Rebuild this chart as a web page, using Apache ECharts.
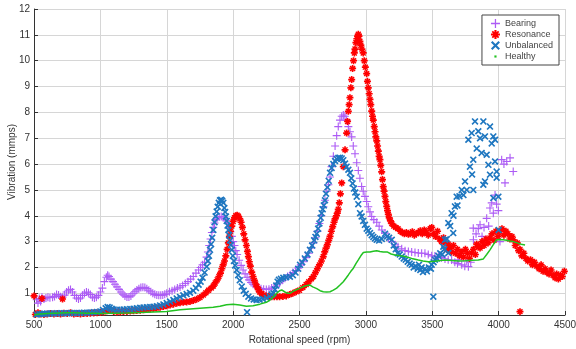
<!DOCTYPE html>
<html>
<head>
<meta charset="utf-8">
<script src="https://cdn.jsdelivr.net/npm/echarts@6/dist/echarts.min.js"></script>
<style>
  html, body { margin: 0; padding: 0; background: #fff; }
  #chart { width: 576px; height: 349px; }
</style>
</head>
<body>
<div id="chart"></div>
<script>
var chart = echarts.init(document.getElementById('chart'));

// axis ticks
var speedTicks = [500, 1000, 1500, 2000, 2500, 3000, 3500, 4000, 4500];
var legendNames = ['Bearing', 'Resonance', 'Unbalanced', 'Healthy'];

// [rpm, mm/s]
var bearing = [
  [520,0.75],[530,0.62],[540,0.8],[550,0.68],[560,0.85],[575,0.78],[590,0.82],[605,0.85],[620,0.83],[640,0.85],
  [655,0.88],[670,0.95],[685,0.93],[700,0.87],[715,0.85],[730,0.93],[745,1.05],[760,1.12],[775,1.15],[790,1.05],
  [805,0.92],[820,0.82],[835,0.78],[850,0.82],[865,0.92],[880,1.0],[895,1.05],[910,1.02],[925,0.95],[940,0.85],
  [955,0.82],[970,0.85],[985,0.92],[1000,1.05],[1015,1.2],[1030,1.45],[1045,1.62],[1055,1.7],[1065,1.65],[1080,1.55],
  [1095,1.45],[1110,1.35],[1125,1.25],[1140,1.15],[1155,1.05],[1170,0.97],[1185,0.9],[1200,0.86],[1215,0.86],[1230,0.9],
  [1245,0.98],[1260,1.06],[1275,1.13],[1290,1.18],[1305,1.22],[1320,1.23],[1335,1.22],[1350,1.18],[1365,1.12],[1380,1.06],
  [1395,1.0],[1410,0.96],[1425,0.93],[1440,0.92],[1455,0.92],[1470,0.93],[1485,0.96],[1500,1.0],[1520,1.06],[1540,1.1],
  [1560,1.15],[1580,1.2],[1600,1.24],[1620,1.3],[1640,1.38],[1660,1.45],[1680,1.55],[1700,1.65],[1720,1.78],[1740,1.9],
  [1755,2.0],[1770,2.1],[1785,2.2],[1800,2.4],[1810,2.6],[1820,2.85],[1830,3.1],[1840,3.35],[1850,3.55],[1860,3.72],
  [1870,3.85],[1880,3.92],[1895,3.96],[1910,3.97],[1925,3.95],[1940,3.88],[1950,3.8],[1960,3.7],[1970,3.55],[1980,3.38],
  [1990,3.2],[2000,3.0],[2010,2.85],[2020,2.65],[2030,2.5],[2045,2.28],[2060,2.08],[2075,1.9],[2090,1.75],[2105,1.62],
  [2120,1.52],[2135,1.42],[2150,1.35],[2170,1.28],[2190,1.22],[2210,1.18],[2230,1.16],[2250,1.15],[2270,1.16],[2290,1.2],
  [2310,1.25],[2330,1.32],[2350,1.4],[2370,1.5],[2390,1.58],[2410,1.65],[2430,1.72],[2450,1.8],[2470,1.88],[2490,1.98],
  [2510,2.1],[2530,2.22],[2550,2.38],[2570,2.55],[2590,2.75],[2605,2.95],[2620,3.15],[2635,3.4],[2650,3.7],[2665,4.0],
  [2680,4.35],[2692,4.6],[2705,4.95],[2718,5.2],[2730,5.5],[2742,5.9],[2755,6.3],[2768,6.7],[2780,7.1],[2792,7.45],
  [2805,7.7],[2818,7.85],[2830,7.9],[2842,7.85],[2855,7.7],[2868,7.45],[2880,7.25],[2893,7.05],[2905,6.7],[2918,6.4],
  [2931,6.05],[2943,5.75],[2955,5.45],[2968,5.13],[2980,4.95],[2993,4.75],[3006,4.55],[3018,4.35],[3031,4.15],[3044,3.97],
  [3060,3.85],[3082,3.75],[3100,3.6],[3120,3.45],[3144,3.33],[3170,3.15],[3195,3.0],[3220,2.88],[3242,2.8],[3270,2.72],
  [3295,2.65],[3320,2.62],[3345,2.6],[3370,2.58],[3395,2.56],[3420,2.55],[3445,2.55],[3470,2.5],[3496,2.45],[3520,2.44],
  [3546,2.42],[3570,2.38],[3596,2.33],[3620,2.3],[3646,2.29],[3670,2.2],[3690,2.15],[3700,2.3],[3722,2.1],[3745,2.05],
  [3760,2.25],[3772,2.03],[3790,2.2],[3810,3.07],[3809,3.52],[3830,3.3],[3847,3.5],[3860,3.65],[3875,3.2],[3890,3.55],
  [3910,3.9],[3925,3.6],[3935,4.3],[3948,4.5],[3960,4.1],[3973,4.8],[3985,4.45],[3998,4.2],[4010,3.0],[4023,6.17],
  [4040,6.0],[4048,5.27],[4061,6.1],[4086,6.24],[4110,5.71]
];

var resonance = [
  [500,0.9],[560,0.8],[715,0.78],
  [510,0.18],[530,0.25],[550,0.2],[575,0.18],[600,0.2],[625,0.22],[650,0.2],[675,0.22],[700,0.2],[725,0.23],
  [750,0.22],[775,0.25],[800,0.2],[825,0.22],[850,0.2],[875,0.22],[900,0.22],[925,0.23],[950,0.24],[975,0.25],
  [1000,0.26],[1025,0.28],[1050,0.32],[1075,0.35],[1100,0.3],[1125,0.28],[1150,0.28],[1175,0.3],[1200,0.3],[1225,0.31],
  [1250,0.32],[1275,0.33],[1300,0.34],[1325,0.36],[1350,0.37],[1375,0.39],[1400,0.41],[1425,0.43],[1450,0.46],[1475,0.49],
  [1500,0.52],[1525,0.55],[1550,0.58],[1575,0.61],[1600,0.63],[1625,0.65],[1650,0.66],[1675,0.68],[1700,0.72],[1725,0.77],
  [1750,0.84],[1775,0.93],[1795,1.02],[1815,1.12],[1835,1.2],[1851,1.28],[1865,1.4],[1880,1.52],[1893,1.65],[1905,1.78],
  [1915,1.95],[1925,2.1],[1935,2.25],[1945,2.45],[1955,2.7],[1964,2.95],[1972,3.2],[1980,3.4],[1990,3.6],[2000,3.78],
  [2010,3.92],[2020,4.0],[2030,4.02],[2040,3.98],[2050,3.88],[2060,3.75],[2070,3.55],[2080,3.3],[2090,3.07],[2100,2.85],
  [2108,2.62],[2115,2.42],[2122,2.22],[2130,2.05],[2140,1.82],[2150,1.65],[2160,1.5],[2170,1.36],[2180,1.25],[2190,1.14],
  [2200,1.05],[2215,0.98],[2230,0.93],[2250,0.9],[2270,0.88],[2290,0.87],[2310,0.87],[2330,0.87],[2350,0.87],[2375,0.88],
  [2400,0.9],[2425,0.95],[2450,1.0],[2475,1.06],[2500,1.12],[2525,1.22],[2550,1.34],[2570,1.45],[2590,1.56],[2605,1.65],
  [2620,1.8],[2635,1.95],[2650,2.1],[2665,2.25],[2679,2.42],[2690,2.6],[2700,2.75],[2710,2.88],[2720,3.05],[2730,3.2],
  [2740,3.4],[2750,3.58],[2760,3.75],[2768,3.88],[2778,4.0],[2785,4.1],[2792,4.25],[2800,4.5],[2808,4.85],[2818,5.27],
  [2830,5.9],[2843,6.55],[2855,7.2],[2862,7.65],[2868,8.04],[2874,8.3],[2880,8.57],[2887,8.95],[2893,9.27],[2900,9.7],
  [2907,10.0],[2913,10.3],[2918,10.45],[2925,10.7],[2932,10.85],[2938,10.95],[2943,11.02],[2948,10.95],[2955,10.75],[2962,10.6],
  [2970,10.45],[2980,10.3],[2988,10.0],[2996,9.75],[3006,9.5],[3012,9.2],[3018,8.95],[3025,8.72],[3031,8.5],[3037,8.3],
  [3044,8.05],[3050,7.85],[3056,7.7],[3063,7.45],[3069,7.25],[3075,7.05],[3082,6.9],[3088,6.7],[3094,6.5],[3100,6.3],
  [3106,6.17],[3112,5.95],[3119,5.7],[3125,5.4],[3131,5.13],[3137,4.95],[3144,4.75],[3150,4.55],[3157,4.36],[3163,4.2],
  [3169,4.05],[3176,3.92],[3185,3.8],[3195,3.7],[3210,3.6],[3225,3.55],[3242,3.5],[3260,3.4],[3275,3.35],[3290,3.3],
  [3305,3.35],[3320,3.28],[3335,3.3],[3350,3.38],[3365,3.25],[3380,3.3],[3395,3.35],[3410,3.42],[3425,3.3],[3440,3.45],
  [3455,3.35],[3470,3.25],[3485,3.5],[3496,3.55],[3510,3.3],[3525,3.2],[3540,3.4],[3555,3.1],[3570,3.0],[3585,3.15],
  [3596,2.95],[3610,2.7],[3620,2.9],[3635,2.75],[3646,2.6],[3660,2.85],[3675,2.55],[3690,2.7],[3705,2.45],[3722,2.6],
  [3735,2.4],[3750,2.7],[3765,2.55],[3780,2.35],[3797,2.56],[3810,2.7],[3825,2.5],[3835,2.9],[3847,2.8],[3860,2.75],
  [3875,3.0],[3890,2.85],[3905,3.1],[3920,2.95],[3935,3.14],[3950,3.3],[3965,3.05],[3980,3.4],[3995,3.2],[4010,3.39],
  [4025,3.5],[4040,3.25],[4055,3.4],[4070,3.3],[4085,3.1],[4100,3.2],[4110,3.07],[4125,2.85],[4140,2.95],[4150,2.65],
  [4161,2.7],[4175,2.45],[4190,2.55],[4205,2.35],[4220,2.25],[4240,2.3],[4255,2.1],[4270,2.2],[4287,2.05],[4305,1.95],
  [4320,2.1],[4335,1.85],[4350,1.95],[4365,1.8],[4380,1.75],[4395,1.9],[4410,1.7],[4425,1.6],[4437,1.75],[4450,1.55],
  [4465,1.7],[4480,1.65],[4495,1.85],[4161,0.29]
];

var unbalanced = [
  [505,0.15],[520,0.18],[540,0.2],[560,0.2],[580,0.21],[600,0.22],[625,0.22],[650,0.22],[675,0.23],[700,0.23],
  [725,0.23],[750,0.23],[775,0.24],[800,0.24],[825,0.24],[850,0.24],[875,0.25],[900,0.25],[925,0.26],[950,0.27],
  [975,0.28],[1000,0.3],[1020,0.35],[1040,0.42],[1055,0.47],[1070,0.45],[1085,0.4],[1100,0.37],[1125,0.36],[1150,0.36],
  [1175,0.37],[1200,0.38],[1225,0.39],[1250,0.4],[1275,0.42],[1300,0.44],[1325,0.45],[1350,0.46],[1375,0.47],[1400,0.48],
  [1425,0.5],[1450,0.53],[1475,0.57],[1500,0.62],[1525,0.68],[1550,0.74],[1575,0.8],[1600,0.86],[1625,0.92],[1650,0.97],
  [1675,1.02],[1700,1.1],[1720,1.2],[1740,1.33],[1755,1.45],[1770,1.6],[1785,1.8],[1801,2.03],[1810,2.25],[1818,2.45],
  [1826,2.68],[1834,2.9],[1842,3.15],[1851,3.45],[1860,3.75],[1868,3.98],[1876,4.16],[1884,4.35],[1892,4.5],[1901,4.6],
  [1910,4.62],[1918,4.58],[1926,4.5],[1934,4.3],[1940,4.15],[1946,3.97],[1952,3.8],[1958,3.62],[1964,3.45],[1970,3.25],
  [1977,3.05],[1983,2.87],[1990,2.68],[1998,2.45],[2006,2.25],[2015,2.08],[2027,1.9],[2038,1.7],[2050,1.5],[2065,1.26],
  [2080,1.1],[2095,0.98],[2105,0.27],[2115,0.87],[2135,0.8],[2155,0.76],[2177,0.74],[2200,0.75],[2225,0.78],[2253,0.82],
  [2275,0.88],[2290,0.95],[2303,1.0],[2315,1.15],[2325,1.3],[2335,1.45],[2345,1.52],[2360,1.56],[2378,1.6],[2400,1.62],
  [2428,1.64],[2450,1.7],[2470,1.8],[2490,1.95],[2504,2.1],[2520,2.2],[2540,2.35],[2560,2.5],[2579,2.68],[2595,2.85],
  [2610,3.05],[2620,3.18],[2630,3.3],[2640,3.5],[2650,3.7],[2660,3.92],[2667,4.1],[2675,4.25],[2683,4.4],[2692,4.6],
  [2700,4.85],[2710,5.1],[2720,5.35],[2730,5.66],[2742,5.85],[2755,6.0],[2768,6.12],[2780,6.2],[2793,6.24],[2805,6.24],
  [2818,6.22],[2830,6.15],[2843,6.02],[2855,5.9],[2868,5.78],[2880,5.66],[2890,5.45],[2900,5.25],[2910,5.05],[2920,4.9],
  [2931,4.74],[2943,4.45],[2956,4.1],[2968,3.97],[2980,3.8],[2993,3.65],[3006,3.5],[3018,3.42],[3031,3.33],[3044,3.25],
  [3056,3.18],[3069,3.12],[3082,3.07],[3100,3.04],[3120,3.1],[3144,3.3],[3160,3.2],[3175,3.15],[3195,3.07],[3210,2.85],
  [3225,2.7],[3240,2.55],[3255,2.5],[3270,2.42],[3285,2.35],[3300,2.3],[3315,2.22],[3330,2.15],[3345,2.1],[3360,2.0],
  [3375,2.05],[3390,1.95],[3400,2.1],[3410,1.9],[3420,2.0],[3430,1.82],[3445,1.95],[3460,1.85],[3475,2.0],[3490,1.95],
  [3496,2.1],[3508,0.87],[3510,2.2],[3520,2.3],[3535,2.35],[3546,2.45],[3560,2.55],[3575,2.5],[3583,2.8],[3590,2.7],
  [3596,3.07],[3610,3.1],[3621,3.72],[3621,2.56],[3635,3.6],[3646,4.1],[3658,3.33],[3660,4.0],[3671,4.36],[3684,4.74],
  [3690,4.4],[3705,4.75],[3722,5.0],[3735,4.8],[3747,5.33],[3760,5.0],[3772,6.94],[3784,5.9],[3797,7.2],[3800,5.6],
  [3809,6.17],[3809,5.0],[3822,7.65],[3835,6.6],[3847,7.27],[3860,7.0],[3872,6.43],[3885,7.65],[3885,5.2],[3897,7.07],
  [3897,5.33],[3910,6.36],[3923,5.97],[3935,7.45],[3935,5.59],[3948,6.8],[3960,7.07],[3960,4.69],[3973,6.94],[3973,6.1],
  [3985,5.71],[3985,5.47],[3998,4.74],[4000,3.45]
];

var healthy = [
  [500,0.16],[520,0.18],[550,0.2],[600,0.22],[650,0.23],[700,0.24],[750,0.25],[800,0.25],[850,0.24],[900,0.23],
  [950,0.23],[1000,0.22],[1100,0.23],[1200,0.24],[1300,0.26],[1400,0.28],[1500,0.3],[1600,0.36],[1700,0.4],[1775,0.43],
  [1850,0.46],[1901,0.5],[1950,0.56],[2000,0.58],[2050,0.55],[2100,0.5],[2150,0.52],[2202,0.58],[2250,0.65],[2278,0.74],
  [2300,0.85],[2328,1.0],[2350,1.1],[2366,1.13],[2390,1.05],[2410,1.0],[2428,1.0],[2460,1.1],[2504,1.2],[2540,1.28],
  [2579,1.32],[2600,1.25],[2630,1.18],[2655,1.1],[2679,1.06],[2705,1.05],[2730,1.06],[2755,1.12],[2780,1.2],[2805,1.32],
  [2830,1.45],[2850,1.58],[2868,1.71],[2887,1.85],[2906,1.97],[2925,2.15],[2943,2.29],[2962,2.45],[2981,2.58],[3006,2.6],
  [3031,2.6],[3056,2.63],[3082,2.65],[3106,2.62],[3131,2.6],[3160,2.6],[3190,2.52],[3219,2.48],[3260,2.45],[3295,2.42],
  [3345,2.35],[3395,2.29],[3430,2.25],[3470,2.22],[3520,2.24],[3560,2.27],[3596,2.29],[3650,2.27],[3700,2.25],[3750,2.26],
  [3800,2.28],[3847,2.29],[3885,2.33],[3910,2.5],[3935,2.68],[3960,2.88],[3985,3.07],[4010,3.08],[4035,3.07],[4060,3.05],
  [4085,3.02],[4110,3.0],[4140,2.95],[4170,2.9],[4199,2.87]
];

// marker shapes
var plusPath = 'path://M-0.7,-5L0.7,-5L0.7,-0.7L5,-0.7L5,0.7L0.7,0.7L0.7,5L-0.7,5L-0.7,0.7L-5,0.7L-5,-0.7L-0.7,-0.7Z';
var crossPath = 'path://M2.83,-4.24L4.24,-2.83L1.41,0L4.24,2.83L2.83,4.24L0,1.41L-2.83,4.24L-4.24,2.83L-1.41,0L-4.24,-2.83L-2.83,-4.24L0,-1.41Z';
var starPath = 'path://M-1.2,-5L1.2,-5L1.2,-1.2L5,-1.2L5,1.2L1.2,1.2L1.2,5L-1.2,5L-1.2,1.2L-5,1.2L-5,-1.2L-1.2,-1.2Z' +
  'M2.83,-4.24L4.24,-2.83L1.41,0L4.24,2.83L2.83,4.24L0,1.41L-2.83,4.24L-4.24,2.83L-1.41,0L-4.24,-2.83L-2.83,-4.24L0,-1.41Z';
var dotPath = 'path://M-5,-5M5,5M-1.2,-1.2L1.2,-1.2L1.2,1.2L-1.2,1.2Z';

var font = 'Liberation Sans, Arial, sans-serif';

var option = {
    animation: false,
    backgroundColor: '#fff',
    textStyle: { fontFamily: font },
    grid: { left: 34, right: 11, top: 9, bottom: 34, containLabel: false, outerBoundsMode: 'none' },
    legend: {
        orient: 'vertical',
        right: 17,
        top: 15,
        padding: [4, 6, 4, 9],
        itemGap: 2,
        itemWidth: 9,
        itemHeight: 9,
        backgroundColor: '#fff',
        borderColor: '#444',
        borderWidth: 1,
        borderRadius: 0,
        textStyle: { fontSize: 9, color: '#444', fontFamily: font },
        data: [
            { name: legendNames[0], icon: plusPath },
            { name: legendNames[1], icon: starPath },
            { name: legendNames[2], icon: crossPath },
            { name: legendNames[3], icon: dotPath }
        ]
    },
    xAxis: {
        type: 'value',
        min: speedTicks[0],
        max: speedTicks[speedTicks.length - 1],
        interval: 500,
        name: 'Rotational speed (rpm)',
        nameLocation: 'middle',
        nameGap: 20,
        nameMoveOverlap: false,
        nameTextStyle: { fontSize: 10, color: '#333' },
        axisLine: { lineStyle: { color: '#333' } },
        axisTick: { inside: true, length: 4, lineStyle: { color: '#333' } },
        axisLabel: { fontSize: 10, color: '#333', margin: 5, formatter: function (v) { return String(v); } },
        splitLine: { lineStyle: { color: '#d6d6d6' } }
    },
    yAxis: {
        type: 'value',
        min: 0.16,
        max: 12,
        splitNumber: 12,
        name: 'Vibration (mmps)',
        nameLocation: 'middle',
        nameGap: 17,
        nameMoveOverlap: false,
        nameTextStyle: { fontSize: 10, color: '#333' },
        axisLine: { show: true, lineStyle: { color: '#333' } },
        axisTick: { show: true, inside: true, length: 4, lineStyle: { color: '#333' } },
        axisLabel: { fontSize: 10, color: '#333', margin: 4, showMinLabel: false,
            formatter: function (v) { return Math.abs(v - Math.round(v)) < 1e-6 ? String(Math.round(v)) : ''; } },
        splitLine: { lineStyle: { color: '#d6d6d6' } }
    },
    series: [
        {
            name: 'Bearing', type: 'scatter', data: bearing,
            symbol: plusPath, symbolSize: 8,
            itemStyle: { color: '#ad5cf5', opacity: 1 }
        },
        {
            name: 'Resonance', type: 'scatter', data: resonance,
            symbol: starPath, symbolSize: 7,
            itemStyle: { color: '#ff0000', opacity: 1 }
        },
        {
            name: 'Unbalanced', type: 'scatter', data: unbalanced,
            symbol: crossPath, symbolSize: 7,
            itemStyle: { color: '#1f77c0', opacity: 1 }
        },
        {
            name: 'Healthy', type: 'line', data: healthy,
            symbol: 'none', smooth: false,
            lineStyle: { color: '#22c222', width: 1.5 },
            itemStyle: { color: '#22c222' }
        }
    ]
};
chart.setOption(option);
</script>
</body>
</html>
